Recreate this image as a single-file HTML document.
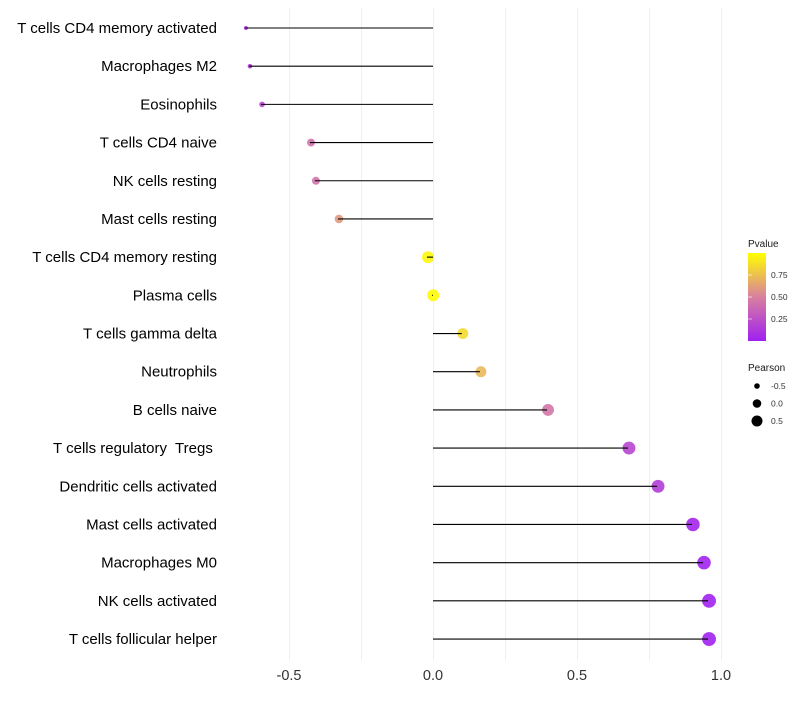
<!DOCTYPE html>
<html><head><meta charset="utf-8"><style>
body{margin:0;background:#fff;font-family:"Liberation Sans",sans-serif}
text{white-space:pre}
</style></head><body>
<svg id="chart" width="800" height="700" xmlns="http://www.w3.org/2000/svg"></svg>
<script>
const categories=["T cells CD4 memory activated","Macrophages M2","Eosinophils","T cells CD4 naive","NK cells resting","Mast cells resting","T cells CD4 memory resting","Plasma cells","T cells gamma delta","Neutrophils","B cells naive","T cells regulatory  Tregs ","Dendritic cells activated","Mast cells activated","Macrophages M0","NK cells activated","T cells follicular helper"];
const pearson=[-0.653,-0.639,-0.597,-0.427,-0.41,-0.33,-0.021,-0.003,0.10,0.163,0.396,0.677,0.778,0.899,0.9375,0.955,0.955];
const pvalues=[0.12,0.15,0.2,0.42,0.44,0.6,0.97,0.99,0.85,0.72,0.45,0.2,0.15,0.03,0.02,0.01,0.01];
const sizeValues=[-0.7,-0.6,-0.45,-0.1,-0.1,0.0,0.5,0.5,0.35,0.35,0.5,0.65,0.65,0.75,0.75,0.8,0.8];
const xTicks=[-0.5,0,0.5,1.0];
const xTickLabels=["-0.5","0.0","0.5","1.0"];
const pTicks=[0.25,0.5,0.75];
const sizeLegend=[-0.5,0,0.5];

const NS="http://www.w3.org/2000/svg";
const svg=document.getElementById('chart');
const X0=433,XS=288;
const x=v=>X0+v*XS;
const y=i=>28+i*38.19;
const r=v=>4.3+3.3*v;
function col(p){
  const stops=[[0,[160,32,240]],[0.5,[217,128,160]],[1,[255,255,0]]];
  let a=stops[0],b=stops[1];if(p>0.5){a=stops[1];b=stops[2];}
  const t=(p-a[0])/(b[0]-a[0]);
  const c=a[1].map((v,k)=>Math.round(v+(b[1][k]-v)*t));
  return `rgb(${c.join(',')})`;
}
function mk(tag,at,txt){const e=document.createElementNS(NS,tag);for(const k in at)e.setAttribute(k,at[k]);if(txt!==undefined)e.textContent=txt;svg.appendChild(e);return e;}
for(let v=-0.5;v<=1.01;v+=0.25){
  const g=mk('line',{x1:Math.round(x(v))+0.5,x2:Math.round(x(v))+0.5,y1:8,y2:660,stroke:'#efefef','stroke-width':1});
  
  
}
xTicks.forEach((v,i)=>{
  const t=mk('text',{x:x(v),y:680,'text-anchor':'middle','font-size':14.5,fill:'#333'},xTickLabels[i]);
  
  
});
categories.forEach((c,i)=>{
  const t=mk('text',{x:217,y:y(i)+5,'text-anchor':'end','font-size':15,fill:'#000'},c);
  
  
  const p=mk('circle',{cx:x(pearson[i])+1,cy:y(i),r:r(sizeValues[i]),fill:col(pvalues[i]),'fill-opacity':0.9});
  
  
  const s=mk('line',{x1:x(0),x2:x(pearson[i]),y1:y(i),y2:y(i),stroke:'#000','stroke-width':1.1});
  
  
});
const lt=mk('text',{x:748,y:247,'font-size':10,fill:'#1a1a1a'},'Pvalue');


const defs=mk('defs',{});
defs.innerHTML='<linearGradient id="gr" x1="0" y1="1" x2="0" y2="0"><stop offset="0" stop-color="'+col(0)+'"/><stop offset="0.5" stop-color="'+col(0.5)+'"/><stop offset="1" stop-color="'+col(1)+'"/></linearGradient>';
const cb=mk('rect',{x:748,y:253,width:18,height:88,fill:'url(#gr)'});


const py=p=>341-p*88;
pTicks.forEach(p=>{
  const l=mk('line',{x1:748,x2:752,y1:py(p),y2:py(p),stroke:'#fff','stroke-width':0.6});
  
  
  const t=mk('text',{x:771,y:py(p)+3,'font-size':8.5,fill:'#333'},p.toFixed(2));
  
  
});
const st=mk('text',{x:748,y:371,'font-size':10,fill:'#1a1a1a'},'Pearson');


sizeLegend.forEach((v,i)=>{
  const yy=386+i*17.5;
  const c=mk('circle',{cx:757,cy:yy,r:[2.8,4.3,5.5][i],fill:'#000'});
  
  
  const t=mk('text',{x:771,y:yy+3,'font-size':8.5,fill:'#333'},v.toFixed(1));
  
  
});
</script>
</body></html>
